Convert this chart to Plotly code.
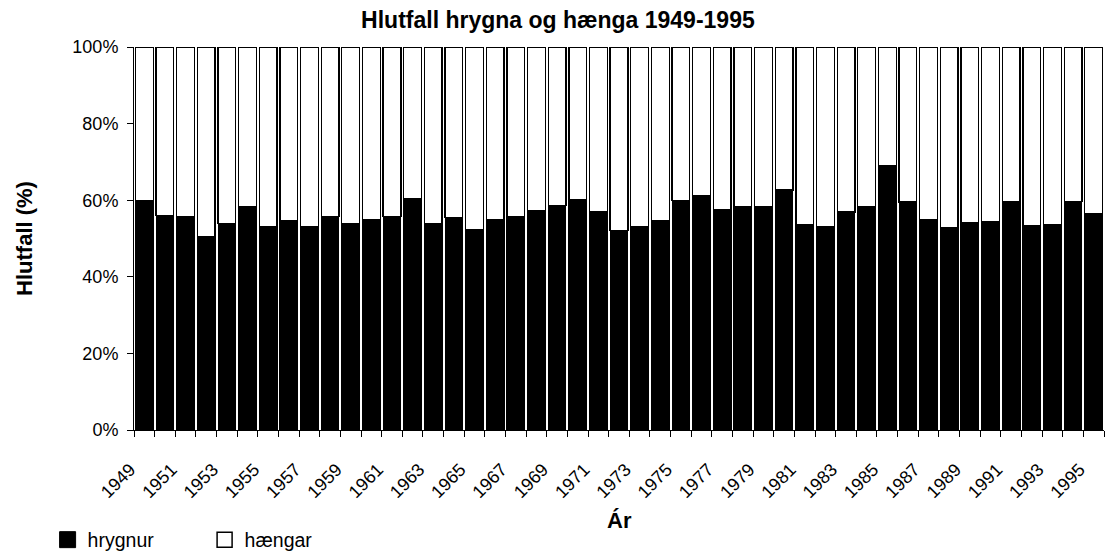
import plotly.graph_objects as go

years = list(range(1949, 1996))
hrygnur = [60.0, 56.0, 55.6, 50.5, 53.9, 58.3, 53.2, 54.6, 53.0, 55.7,
           53.9, 55.0, 55.7, 60.4, 53.9, 55.5, 52.4, 54.8, 55.7, 57.2,
           58.7, 60.2, 56.9, 52.0, 53.0, 54.6, 60.0, 61.1, 57.6, 58.2,
           58.3, 62.7, 53.7, 53.2, 56.9, 58.2, 68.9, 59.5, 54.9, 52.9,
           54.1, 54.3, 59.7, 53.4, 53.7, 59.7, 56.6]
haengar = [round(100 - v, 1) for v in hrygnur]
tick_years = years[::2]
y_ticks = [0, 20, 40, 60, 80, 100]

FONT = "Arial, Liberation Sans, sans-serif"

fig = go.Figure()
fig.add_trace(go.Bar(x=years, y=hrygnur, name="hrygnur", showlegend=False,
                     marker=dict(color="black", line=dict(color="black", width=1))))
fig.add_trace(go.Bar(x=years, y=haengar, name="hængar", showlegend=False,
                     marker=dict(color="white", line=dict(color="black", width=1.3))))
# legend entries with larger square swatches
fig.add_trace(go.Scatter(x=[None], y=[None], mode="markers", name="hrygnur",
                         marker=dict(symbol="square", size=16, color="black",
                                     line=dict(color="black", width=1))))
fig.add_trace(go.Scatter(x=[None], y=[None], mode="markers", name="hængar",
                         marker=dict(symbol="square", size=15, color="white",
                                     line=dict(color="black", width=1.5))))

fig.update_layout(
    barmode="stack",
    bargap=0.14,
    width=1107, height=551,
    margin=dict(l=134, r=3, t=47, b=121),
    plot_bgcolor="white", paper_bgcolor="white",
    font=dict(family=FONT, size=18, color="black"),
    title=dict(text="<b>Hlutfall hrygna og hænga 1949-1995</b>",
               x=0.504, xanchor="center", y=0.963, yanchor="middle",
               font=dict(size=23, family=FONT)),
    showlegend=True,
    legend=dict(orientation="h", xref="container", yref="container",
                x=0.043, xanchor="left", y=0.02, yanchor="middle",
                traceorder="normal",
                font=dict(size=19.5, family=FONT), entrywidth=112, entrywidthmode="pixels",
                itemwidth=30, tracegroupgap=0, bgcolor="rgba(0,0,0,0)"),
    annotations=[dict(text="<b>Ár</b>", xref="paper", yref="paper", x=0.5, y=-0.235,
                      xanchor="center", yanchor="middle", showarrow=False,
                      font=dict(size=22, family=FONT))],
)

fig.update_xaxes(
    range=[1948.5, 1995.5], automargin=False,
    tickmode="array", tickvals=tick_years,
    ticktext=[str(y) for y in tick_years],
    tickangle=-45, ticks="", ticklabelshift=-14, ticklabelstandoff=21,
    tickfont=dict(size=18, family=FONT),
    showline=True, linecolor="black", linewidth=1, showgrid=False, zeroline=False,
    minor=dict(tickmode="linear", tick0=1948.5, dtick=1, ticks="outside",
               ticklen=6, tickcolor="black", tickwidth=1, showgrid=False),
)
fig.update_yaxes(
    range=[0, 100], automargin=False,
    tickmode="array", tickvals=y_ticks, ticktext=[f"{v}%" for v in y_ticks],
    ticks="outside", ticklen=6, tickcolor="black", tickwidth=1, ticklabelstandoff=5,
    tickfont=dict(size=18, family=FONT),
    showline=True, linecolor="black", linewidth=1, showgrid=False, zeroline=False,
    title=dict(text="<b>Hlutfall (%)</b>", font=dict(size=22, family=FONT), standoff=33),
)

fig.write_html("out.html", config={"displayModeBar": False},
               post_script="document.body.style.margin='0px';")
